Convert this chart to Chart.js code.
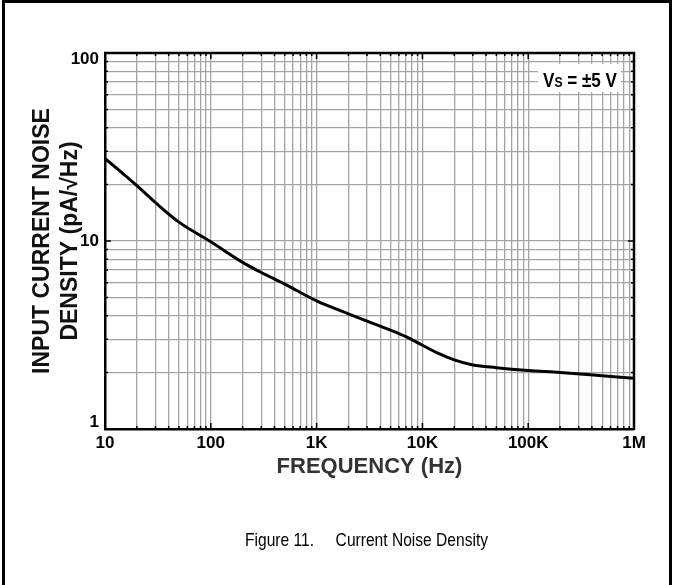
<!DOCTYPE html>
<html>
<head>
<meta charset="utf-8">
<script src="https://cdn.jsdelivr.net/npm/chart.js@4"></script>
<style>
  html, body { margin: 0; padding: 0; background: #fff; }
  #wrap { width: 673px; height: 585px; }
</style>
</head>
<body>
<div id="wrap"><canvas id="noiseChart" width="673" height="585"></canvas></div>
<script>
// values
const freqHz = [10, 20, 30, 50, 100, 200, 300, 500, 1000, 2000, 3000, 5000, 7000,
  10000, 14000, 20000, 30000, 50000, 100000, 200000, 500000, 1000000];
const noiseDensity = [27.5, 19.7, 16.0, 12.6, 9.9, 7.7, 6.8, 5.9, 4.8, 4.1, 3.75, 3.36, 3.1,
  2.79, 2.53, 2.33, 2.19, 2.12, 2.05, 2.0, 1.92, 1.86];

const xDecades = [10, 100, 1000, 10000, 100000, 1000000];
const xDecadeLabels = ['10', '100', '1K', '10K', '100K', '1M'];
const yDecades = [1, 10, 100];
const yDecadeLabels = ['1', '10', '100'];

const xTitle = 'FREQUENCY (Hz)';
const yTitle = ['INPUT CURRENT NOISE', 'DENSITY (pA/\u221AHz)'];
const caption = 'Figure 11.     Current Noise Density';

const FONT = "'Liberation Sans', Arial, sans-serif";

// 1,2,...,9 per decade for the log grid
function logTicks(decades) {
  const out = [];
  for (let i = 0; i < decades.length - 1; i++) {
    for (let m = 1; m < 10; m++) out.push(decades[i] * m);
  }
  out.push(decades[decades.length - 1]);
  return out;
}

function fitText(ctx, text, x, y, width) {
  const w = ctx.measureText(text).width;
  ctx.save();
  ctx.translate(x, y);
  ctx.scale(width / w, 1);
  ctx.fillText(text, 0, 0);
  ctx.restore();
}

const figureExtras = {
  id: 'figureExtras',
  afterDraw(chart) {
    const ctx = chart.ctx;
    const { left, top, right, bottom } = chart.chartArea;
    const xs = chart.scales.x, ys = chart.scales.y;
    ctx.save();

    // top and right frame of the plot
    ctx.strokeStyle = '#000';
    ctx.lineWidth = 2.5;
    ctx.beginPath();
    ctx.moveTo(left - 1, top);
    ctx.lineTo(right, top);
    ctx.lineTo(right, bottom + 1);
    ctx.stroke();

    // small inner tick stubs
    ctx.lineWidth = 1.5;
    ctx.beginPath();
    logTicks(xDecades).forEach(v => {
      const px = xs.getPixelForValue(v);
      const len = xDecades.includes(v) ? 6 : 3;
      ctx.moveTo(px, top); ctx.lineTo(px, top + len);
      ctx.moveTo(px, bottom); ctx.lineTo(px, bottom - len);
    });
    logTicks(yDecades).forEach(v => {
      const py = ys.getPixelForValue(v);
      const len = yDecades.includes(v) ? 6 : 3;
      ctx.moveTo(left, py); ctx.lineTo(left + len, py);
      ctx.moveTo(right, py); ctx.lineTo(right - len, py);
    });
    ctx.stroke();

    // supply note box
    ctx.fillStyle = '#fff';
    ctx.fillRect(right - 96, top + 11, 83, 28);
    ctx.fillStyle = '#000';
    ctx.textBaseline = 'alphabetic';
    ctx.textAlign = 'left';
    const parts = [['V', 21], ['S', 15], [' = \u00B15 V', 21]];
    let total = 0;
    parts.forEach(p => { ctx.font = 'bold ' + p[1] + 'px ' + FONT; total += ctx.measureText(p[0]).width; });
    const sc = 74 / total;
    let tx = right - 91;
    const ty = top + 34;
    parts.forEach(p => {
      ctx.font = 'bold ' + p[1] + 'px ' + FONT;
      const w = ctx.measureText(p[0]).width * sc;
      fitText(ctx, p[0], tx, ty, w);
      tx += w;
    });

    // caption
    ctx.font = '19px ' + FONT;
    ctx.textBaseline = 'middle';
    fitText(ctx, caption, 245, 541, 243);

    // outer figure frame
    ctx.strokeStyle = '#000';
    ctx.lineWidth = 3;
    ctx.beginPath();
    ctx.moveTo(3.5, 585);
    ctx.lineTo(3.5, 1.5);
    ctx.lineTo(670.5, 1.5);
    ctx.lineTo(670.5, 585);
    ctx.stroke();
    ctx.restore();
  }
};

const ctx = document.getElementById('noiseChart').getContext('2d');
new Chart(ctx, {
  type: 'line',
  data: {
    datasets: [{
      data: freqHz.map((f, i) => ({ x: f, y: noiseDensity[i] })),
      borderColor: '#000',
      borderWidth: 3,
      pointRadius: 0,
      fill: false,
      cubicInterpolationMode: 'monotone'
    }]
  },
  options: {
    responsive: false,
    animation: false,
    devicePixelRatio: 1,
    layout: { padding: { left: 0, top: 53, right: 39, bottom: 0 } },
    plugins: { legend: { display: false }, tooltip: { enabled: false } },
    scales: {
      x: {
        type: 'logarithmic',
        min: 10,
        max: 1000000,
        afterBuildTicks: s => { s.ticks = logTicks(xDecades).map(v => ({ value: v })); },
        afterFit: s => { s.height = 156; },
        ticks: {
          autoSkip: false,
          maxRotation: 0,
          padding: 4,
          color: '#000',
          font: { family: FONT, size: 17, weight: 'bold' },
          callback: v => {
            const i = xDecades.indexOf(v);
            return i >= 0 ? xDecadeLabels[i] : '';
          }
        },
        grid: { color: '#a3a3a3', lineWidth: 1.3, drawTicks: false },
        border: { color: '#000', width: 2.5 },
        title: {
          display: true,
          text: xTitle,
          color: '#333',
          font: { family: FONT, size: 22, weight: 'bold', lineHeight: 1.2 },
          padding: { top: 0, bottom: 105 }
        }
      },
      y: {
        type: 'logarithmic',
        min: 1,
        max: 100,
        afterBuildTicks: s => { s.ticks = logTicks(yDecades).map(v => ({ value: v })); },
        afterFit: s => { s.width = 105; },
        ticks: {
          autoSkip: false,
          padding: 6,
          color: '#000',
          font: { family: FONT, size: 17, weight: 'bold', lineHeight: 0.8 },
          callback: v => {
            const i = yDecades.indexOf(v);
            if (i < 0) return '';
            // keep the end labels inside the frame, as in the original
            if (i === 0) return [yDecadeLabels[i], ''];
            if (i === yDecades.length - 1) return ['', yDecadeLabels[i]];
            return yDecadeLabels[i];
          }
        },
        grid: { color: '#a3a3a3', lineWidth: 1.3, drawTicks: false },
        border: { color: '#000', width: 2.5 },
        title: {
          display: true,
          text: yTitle,
          color: '#111',
          font: { family: FONT, size: 23, weight: 'bold', lineHeight: 1.25 },
          padding: { top: 28, bottom: 0 }
        }
      }
    }
  },
  plugins: [figureExtras]
});
</script>
</body>
</html>
